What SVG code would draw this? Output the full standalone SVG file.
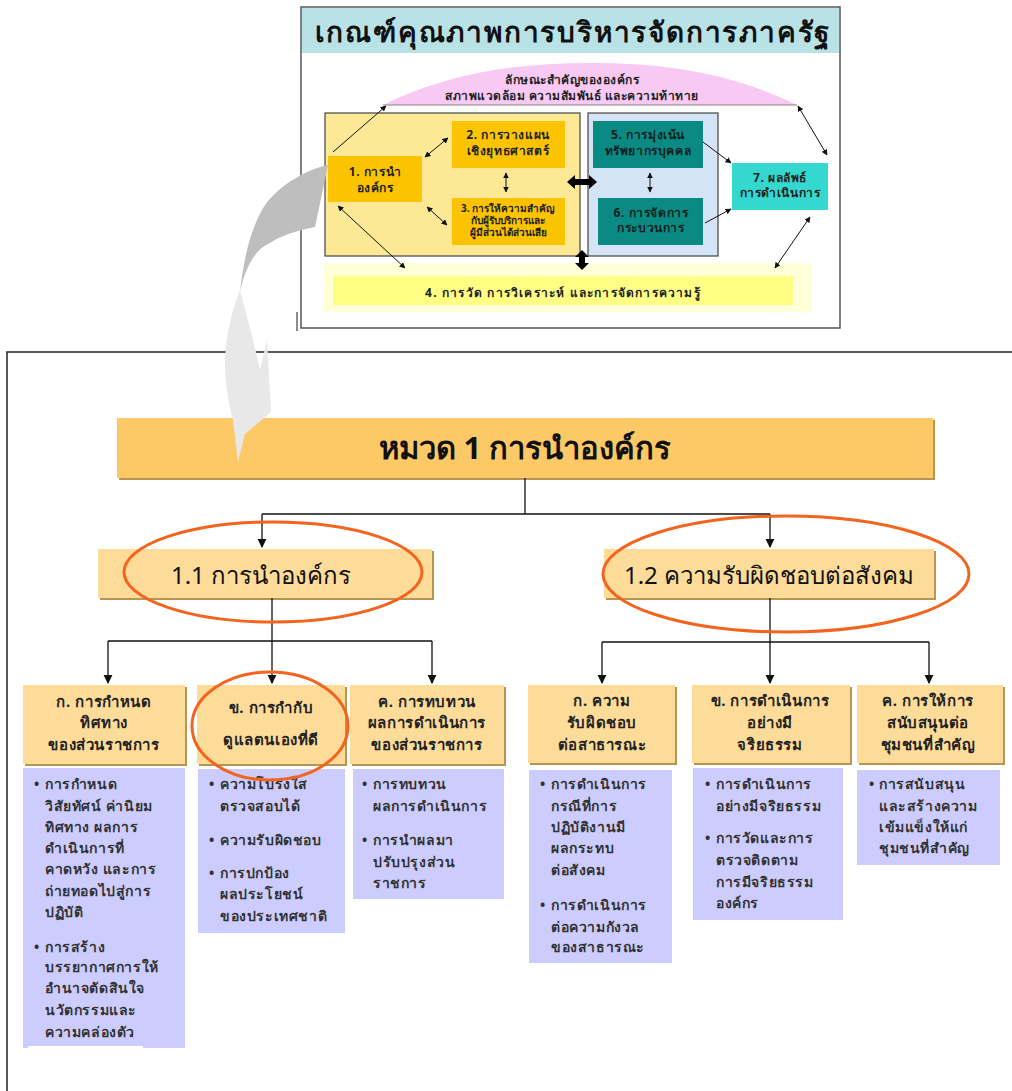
<svg xmlns="http://www.w3.org/2000/svg" width="1012" height="1091" viewBox="0 0 1012 1091">
<defs>
<style>
text{font-family:"Noto Sans","DejaVu Sans",sans-serif}
.c{text-anchor:middle}
.title{font-size:28px;font-weight:bold;fill:#111;letter-spacing:1.8px}
.s11{font-size:12px;font-weight:bold;fill:#222;letter-spacing:0.5px}
.s4{font-size:12px;font-weight:bold;fill:#222;letter-spacing:1.2px}
.s12{font-size:12px;font-weight:bold;fill:#222;letter-spacing:0.6px}
.s10{font-size:10px;font-weight:bold;fill:#222}
.hd{font-size:31px;font-weight:bold;fill:#111}
.h2{font-size:24px;fill:#111}
.sb{font-size:15px;font-weight:bold;fill:#222;letter-spacing:0.6px}
.bl{font-size:14px;font-weight:bold;fill:#333;letter-spacing:0.6px}
.ln{stroke:#111;stroke-width:1;fill:none}
.tl{stroke:#111;stroke-width:1.3;fill:none}
.ell{fill:none;stroke:#f3641e;stroke-width:3}
.orange{fill:#fddb99}
.lav{fill:#ccccfe}
.shadow{fill:#b89550}
</style>
<marker id="ah" viewBox="0 0 10 10" refX="9" refY="5" markerWidth="6" markerHeight="6" orient="auto-start-reverse"><path d="M0,0 L10,5 L0,10 z" fill="#111"/></marker>
<marker id="ah2" viewBox="0 0 10 10" refX="9" refY="5" markerWidth="7" markerHeight="7" orient="auto"><path d="M0,0 L10,5 L0,10 z" fill="#111"/></marker>
</defs>
<rect width="1012" height="1091" fill="#fff"/>

<!-- top diagram frame -->
<g id="top-frame">
<rect x="301" y="7" width="539" height="321" fill="#fff" stroke="#555" stroke-width="1.5"/>
<rect x="302" y="8" width="537" height="45" fill="#b9e2e6"/>
<text class="title c" x="573" y="42">เกณฑ์คุณภาพการบริหารจัดการภาครัฐ</text>
<line x1="297" y1="312" x2="297" y2="331" stroke="#666" stroke-width="1.5"/>
</g>
<g id="profile">
<path d="M383,105 C450,72 520,63 590,63 C660,63 730,72 797,105 Z" fill="#f8c9f2"/>
<line x1="383" y1="105" x2="797" y2="105" stroke="#888" stroke-width="1"/>
<text class="s11 c" x="572" y="84">ลักษณะสำคัญขององค์กร</text>
<text class="s11 c" x="572" y="100">สภาพแวดล้อม ความสัมพันธ์ และความท้าทาย</text>
</g>
<g id="group-yellow"><rect x="325" y="113" width="255" height="143" fill="#fde995" stroke="#444" stroke-width="1.2"/></g>
<g id="group-blue"><rect x="588" y="113" width="130" height="143" fill="#d5e3f7" stroke="#444" stroke-width="1.2"/></g>
<g id="c1"><rect x="328" y="156" width="94" height="46" fill="#fcc400"/>
<text class="s12 c" x="375" y="176">1. การนำ</text><text class="s12 c" x="375" y="192">องค์กร</text></g>
<g id="c2"><rect x="452" y="121" width="113" height="47" fill="#fcc400"/>
<text class="s12 c" x="508" y="139">2. การวางแผน</text><text class="s12 c" x="508" y="155">เชิงยุทธศาสตร์</text></g>
<g id="c3"><rect x="452" y="198" width="113" height="47" fill="#fcc400"/>
<text class="s10 c" x="508" y="212">3. การให้ความสำคัญ</text><text class="s10 c" x="508" y="224">กับผู้รับบริการและ</text><text class="s10 c" x="508" y="236">ผู้มีส่วนได้ส่วนเสีย</text></g>
<g id="c5"><rect x="593" y="121" width="110" height="47" fill="#0a8a82"/>
<text class="s12 c" x="648" y="139" style="fill:#0b1f1f">5. การมุ่งเน้น</text><text class="s12 c" x="648" y="155" style="fill:#0b1f1f">ทรัพยากรบุคคล</text></g>
<g id="c6"><rect x="598" y="198" width="105" height="47" fill="#0a8a82"/>
<text class="s12 c" x="651" y="217" style="fill:#0b1f1f">6. การจัดการ</text><text class="s12 c" x="651" y="232" style="fill:#0b1f1f">กระบวนการ</text></g>
<g id="c7"><rect x="732" y="163" width="96" height="47" fill="#34d8cf"/>
<text class="s12 c" x="780" y="182">7. ผลลัพธ์</text><text class="s12 c" x="780" y="197">การดำเนินการ</text></g>
<g id="c4"><rect x="324" y="263" width="488" height="49" fill="#ffffd8"/>
<rect x="333" y="276" width="460" height="29" fill="#ffff85"/>
<text class="s4 c" x="563" y="297">4. การวัด การวิเคราะห์ และการจัดการความรู้</text></g>

<!-- main frame -->
<g id="main-frame">
<polyline points="1012,352 7,352 7,1091" fill="none" stroke="#222" stroke-width="1.5"/>
</g>

<!-- lower nodes -->
<g id="n-head"><rect x="119" y="420" width="816" height="60" class="shadow"/>
<rect x="117" y="418" width="816" height="60" fill="#fdc966"/>
<text class="hd c" x="525" y="459">หมวด 1 การนำองค์กร</text></g>
<g id="n-11"><rect x="100" y="551" width="334" height="49" class="shadow"/>
<rect x="98" y="549" width="334" height="49" class="orange"/>
<text class="h2 c" x="261" y="584">1.1 การนำองค์กร</text></g>
<g id="n-12"><rect x="606" y="551" width="330" height="49" class="shadow"/>
<rect x="604" y="549" width="330" height="49" class="orange"/>
<text class="h2 c" x="769" y="584">1.2 ความรับผิดชอบต่อสังคม</text></g>

<g id="n-11a"><rect x="25" y="687" width="162" height="79" class="shadow"/>
<rect x="23" y="685" width="162" height="79" class="orange"/>
<text class="sb c" x="104" y="707">ก. การกำหนด</text><text class="sb c" x="104" y="728">ทิศทาง</text><text class="sb c" x="104" y="750">ของส่วนราชการ</text>
<rect x="23" y="768" width="162" height="280" class="lav"/>
<rect x="28" y="1046" width="115" height="4" fill="#fff"/>
<text class="bl" x="34" y="789">•</text>
<text class="bl" x="45" y="789">การกำหนด</text><text class="bl" x="45" y="811">วิสัยทัศน์ ค่านิยม</text><text class="bl" x="45" y="832">ทิศทาง ผลการ</text><text class="bl" x="45" y="853">ดำเนินการที่</text><text class="bl" x="45" y="874">คาดหวัง และการ</text><text class="bl" x="45" y="896">ถ่ายทอดไปสู่การ</text><text class="bl" x="45" y="917">ปฏิบัติ</text>
<text class="bl" x="34" y="952">•</text>
<text class="bl" x="45" y="952">การสร้าง</text><text class="bl" x="45" y="972">บรรยากาศการให้</text><text class="bl" x="45" y="993">อำนาจตัดสินใจ</text><text class="bl" x="45" y="1015">นวัตกรรมและ</text><text class="bl" x="45" y="1037">ความคล่องตัว</text></g>

<g id="n-11b"><rect x="199" y="687" width="148" height="79" class="shadow"/>
<rect x="197" y="685" width="148" height="79" class="orange"/>
<text class="sb c" x="271" y="713">ข. การกำกับ</text><text class="sb c" x="271" y="745">ดูแลตนเองที่ดี</text>
<rect x="198" y="769" width="147" height="164" class="lav"/>
<text class="bl" x="209" y="789">•</text>
<text class="bl" x="220" y="789">ความโปร่งใส</text><text class="bl" x="220" y="811">ตรวจสอบได้</text>
<text class="bl" x="209" y="845">•</text><text class="bl" x="220" y="845">ความรับผิดชอบ</text>
<text class="bl" x="209" y="878">•</text><text class="bl" x="220" y="878">การปกป้อง</text><text class="bl" x="220" y="899">ผลประโยชน์</text><text class="bl" x="220" y="921">ของประเทศชาติ</text></g>

<g id="n-11c"><rect x="352" y="687" width="154" height="79" class="shadow"/>
<rect x="350" y="685" width="154" height="79" class="orange"/>
<text class="sb c" x="427" y="707">ค. การทบทวน</text><text class="sb c" x="427" y="728">ผลการดำเนินการ</text><text class="sb c" x="427" y="750">ของส่วนราชการ</text>
<rect x="353" y="769" width="151" height="130" class="lav"/>
<text class="bl" x="362" y="789">•</text>
<text class="bl" x="373" y="789">การทบทวน</text><text class="bl" x="373" y="811">ผลการดำเนินการ</text>
<text class="bl" x="362" y="845">•</text><text class="bl" x="373" y="845">การนำผลมา</text><text class="bl" x="373" y="867">ปรับปรุงส่วน</text><text class="bl" x="373" y="888">ราชการ</text></g>

<g id="n-12a"><rect x="530" y="687" width="147" height="78" class="shadow"/>
<rect x="528" y="685" width="147" height="78" class="orange"/>
<text class="sb c" x="602" y="706">ก. ความ</text><text class="sb c" x="602" y="728">รับผิดชอบ</text><text class="sb c" x="602" y="750">ต่อสาธารณะ</text>
<rect x="529" y="770" width="143" height="193" class="lav"/>
<text class="bl" x="540" y="789">•</text>
<text class="bl" x="551" y="789">การดำเนินการ</text><text class="bl" x="551" y="811">กรณีที่การ</text><text class="bl" x="551" y="832">ปฏิบัติงานมี</text><text class="bl" x="551" y="853">ผลกระทบ</text><text class="bl" x="551" y="875">ต่อสังคม</text>
<text class="bl" x="540" y="910">•</text>
<text class="bl" x="551" y="910">การดำเนินการ</text><text class="bl" x="551" y="932">ต่อความกังวล</text><text class="bl" x="551" y="952">ของสาธารณะ</text></g>

<g id="n-12b"><rect x="694" y="687" width="158" height="78" class="shadow"/>
<rect x="692" y="685" width="158" height="78" class="orange"/>
<text class="sb c" x="770" y="706">ข. การดำเนินการ</text><text class="sb c" x="770" y="728">อย่างมี</text><text class="sb c" x="770" y="750">จริยธรรม</text>
<rect x="693" y="768" width="150" height="152" class="lav"/>
<text class="bl" x="705" y="789">•</text>
<text class="bl" x="716" y="789">การดำเนินการ</text><text class="bl" x="716" y="811">อย่างมีจริยธรรม</text>
<text class="bl" x="705" y="843">•</text>
<text class="bl" x="716" y="843">การวัดและการ</text><text class="bl" x="716" y="865">ตรวจติดตาม</text><text class="bl" x="716" y="887">การมีจริยธรรม</text><text class="bl" x="716" y="908">องค์กร</text></g>

<g id="n-12c"><rect x="859" y="687" width="146" height="78" class="shadow"/>
<rect x="857" y="685" width="146" height="78" class="orange"/>
<text class="sb c" x="928" y="706">ค. การให้การ</text><text class="sb c" x="928" y="728">สนับสนุนต่อ</text><text class="sb c" x="928" y="750">ชุมชนที่สำคัญ</text>
<rect x="857" y="770" width="143" height="95" class="lav"/>
<text class="bl" x="869" y="789">•</text>
<text class="bl" x="879" y="789">การสนับสนุน</text><text class="bl" x="879" y="811">และสร้างความ</text><text class="bl" x="879" y="832">เข้มแข็งให้แก่</text><text class="bl" x="879" y="853">ชุมชนที่สำคัญ</text></g>

<!-- connectors -->
<g id="connectors">
<line class="ln" x1="333" y1="152" x2="386" y2="106" marker-end="url(#ah)"/>
<line class="ln" x1="798" y1="106" x2="827" y2="155" marker-start="url(#ah)" marker-end="url(#ah)"/>
<line class="ln" x1="425" y1="157" x2="448" y2="138" marker-start="url(#ah)" marker-end="url(#ah)"/>
<line class="ln" x1="427" y1="207" x2="447" y2="225" marker-start="url(#ah)" marker-end="url(#ah)"/>
<line class="ln" x1="506" y1="173" x2="506" y2="192" marker-start="url(#ah)" marker-end="url(#ah)"/>
<line class="ln" x1="650" y1="173" x2="650" y2="192" marker-start="url(#ah)" marker-end="url(#ah)"/>
<line class="ln" x1="703" y1="142" x2="731" y2="163" marker-end="url(#ah)"/>
<line class="ln" x1="705" y1="223" x2="731" y2="209" marker-end="url(#ah)"/>
<line class="ln" x1="338" y1="206" x2="405" y2="268" marker-start="url(#ah)" marker-end="url(#ah)"/>
<line class="ln" x1="810" y1="217" x2="775" y2="268" marker-start="url(#ah)" marker-end="url(#ah)"/>
<path d="M567,182 L575,175 L575,179 L589,179 L589,175 L597,182 L589,189 L589,185 L575,185 L575,189 Z" fill="#000"/>
<path d="M582,250 L589,257 L585,257 L585,263 L589,263 L582,270 L575,263 L579,263 L579,257 L575,257 Z" fill="#000"/>

<polyline class="tl" points="525,478 525,514"/>
<line class="tl" x1="262" y1="514" x2="770" y2="514"/>
<line class="tl" x1="262" y1="514" x2="262" y2="547" marker-end="url(#ah2)"/>
<line class="tl" x1="770" y1="514" x2="770" y2="547" marker-end="url(#ah2)"/>
<line class="tl" x1="272" y1="598" x2="272" y2="641"/>
<line class="tl" x1="108" y1="641" x2="432" y2="641"/>
<line class="tl" x1="108" y1="641" x2="108" y2="683" marker-end="url(#ah2)"/>
<line class="tl" x1="272" y1="641" x2="272" y2="683" marker-end="url(#ah2)"/>
<line class="tl" x1="432" y1="641" x2="432" y2="683" marker-end="url(#ah2)"/>
<line class="tl" x1="770" y1="598" x2="770" y2="642"/>
<line class="tl" x1="602" y1="642" x2="929" y2="642"/>
<line class="tl" x1="602" y1="642" x2="602" y2="683" marker-end="url(#ah2)"/>
<line class="tl" x1="770" y1="642" x2="770" y2="683" marker-end="url(#ah2)"/>
<line class="tl" x1="929" y1="642" x2="929" y2="683" marker-end="url(#ah2)"/>
</g>

<!-- highlight ellipses -->
<g id="highlights">
<ellipse class="ell" cx="273" cy="572" rx="149" ry="50"/>
<ellipse class="ell" cx="786" cy="574" rx="183" ry="58"/>
<ellipse class="ell" cx="270" cy="726" rx="78" ry="54"/>
</g>

<!-- curved gray arrow -->
<g id="zoom-arrow">
<path d="M328,165 C305,170 280,185 265,205 C252,225 244,255 240,292 C245,268 255,250 268,244 C280,236 295,231 315,227 Z" fill="#bebebe"/>
<path d="M240,290 C232,310 226,335 225,360 C225,385 229,405 233,420 L238,462 L245,434 L271,412 L267,340 L260,370 C255,345 247,318 240,290 Z" fill="#e8e8e8"/>
</g>
</svg>
